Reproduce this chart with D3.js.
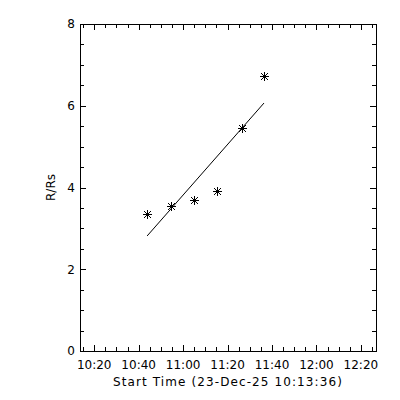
<!DOCTYPE html>
<html>
<head>
<meta charset="utf-8">
<script src="https://cdn.jsdelivr.net/npm/d3@7"></script>
<style>
  html, body { margin: 0; padding: 0; background: #fff; }
  svg { display: block; }
  text { font-family: "DejaVu Sans", sans-serif; font-size: 12px; fill: #000; }
</style>
</head>
<body>
<script>
// ---- data ----
const day = "2025-12-23";
const times = ["10:43:48", "10:54:24", "11:05:00", "11:15:18", "11:26:18", "11:36:24"];
const heights = [3.35, 3.55, 3.69, 3.91, 5.45, 6.73];
const xTickLabels = ["10:20", "10:40", "11:00", "11:20", "11:40", "12:00", "12:20"];
const yTickLabels = ["0", "2", "4", "6", "8"];
const xRange = ["10:13:36", "12:26:48"];
const yRange = [0, 8];
const xTitle = "Start Time (23-Dec-25 10:13:36)";
const yTitle = "R/Rs";

// ---- layout ----
const W = 400, H = 400;
const L = 80, R = 376, T = 24, B = 351;
const parse = s => new Date(day + "T" + s + "Z");

const svg = d3.select("body").append("svg").attr("width", W).attr("height", H);

const x = d3.scaleUtc().domain(xRange.map(parse)).range([L, R]);
const y = d3.scaleLinear().domain(yRange).range([B, T]);

const g = svg.append("g").attr("shape-rendering", "crispEdges");

// frame
g.append("rect").attr("x", L + 0.5).attr("y", T + 0.5)
  .attr("width", R - L).attr("height", B - T)
  .attr("fill", "none").attr("stroke", "#000").attr("stroke-width", 1);

// x ticks
const xMajor = xTickLabels.map(parse);
const xMinor = d3.utcMinute.every(5).range(x.domain()[0], x.domain()[1]);
xMinor.forEach(d => {
  const isMajor = xMajor.some(m => +m === +d);
  const len = isMajor ? 6 : 4;
  const px = Math.round(x(d)) + 0.5;
  g.append("line").attr("x1", px).attr("x2", px).attr("y1", B).attr("y2", B - len).attr("stroke", "#000");
  g.append("line").attr("x1", px).attr("x2", px).attr("y1", T).attr("y2", T + len).attr("stroke", "#000");
});
xMajor.forEach((d, i) => {
  svg.append("text").attr("x", x(d)).attr("y", 369).attr("text-anchor", "middle").text(xTickLabels[i]);
});

// y ticks
d3.range(yRange[0], yRange[1] + 0.001, 0.5).forEach(v => {
  const isMajor = Math.abs(v % 2) < 1e-6;
  const len = isMajor ? 6 : 4;
  const py = Math.round(y(v)) + 0.5;
  g.append("line").attr("x1", L).attr("x2", L + len).attr("y1", py).attr("y2", py).attr("stroke", "#000");
  g.append("line").attr("x1", R).attr("x2", R - len).attr("y1", py).attr("y2", py).attr("stroke", "#000");
});
yTickLabels.forEach(t => {
  svg.append("text").attr("x", 75).attr("y", y(+t) + 4.3).attr("text-anchor", "end").text(t);
});

// titles
svg.append("text").attr("x", (L + R) / 2).attr("y", 386).attr("text-anchor", "middle")
  .attr("letter-spacing", "1.1px").text(xTitle);
svg.append("text").attr("transform", `translate(54.5,${(T + B) / 2}) rotate(-90)`)
  .attr("text-anchor", "middle").text(yTitle);

// linear fit (least squares on the data)
const xs = times.map(t => (parse(t) - parse(times[0])) / 60000);
const mx = d3.mean(xs), my = d3.mean(heights);
const slope = d3.sum(xs.map((v, i) => (v - mx) * (heights[i] - my))) / d3.sum(xs.map(v => (v - mx) ** 2));
const icpt = my - slope * mx;
const fit = [0, times.length - 1].map(i => [parse(times[i]), icpt + slope * xs[i]]);
svg.append("path").datum(fit)
  .attr("d", d3.line().x(d => x(d[0])).y(d => y(d[1])))
  .attr("fill", "none").attr("stroke", "#000").attr("stroke-width", 1);

// asterisks
const s = 4.5, sd = 3.5;
const pts = svg.append("g").attr("stroke", "#000").attr("stroke-width", 1);
times.forEach((t, i) => {
  const cx = Math.round(x(parse(t))) + 0.5, cy = Math.round(y(heights[i])) + 0.5;
  const star = pts.append("g").attr("transform", `translate(${cx},${cy})`);
  star.append("line").attr("x1", -s).attr("x2", s).attr("y1", 0).attr("y2", 0).attr("shape-rendering", "crispEdges");
  star.append("line").attr("x1", 0).attr("x2", 0).attr("y1", -s).attr("y2", s).attr("shape-rendering", "crispEdges");
  star.append("line").attr("x1", -sd).attr("x2", sd).attr("y1", -sd).attr("y2", sd);
  star.append("line").attr("x1", -sd).attr("x2", sd).attr("y1", sd).attr("y2", -sd);
});
</script>
</body>
</html>
